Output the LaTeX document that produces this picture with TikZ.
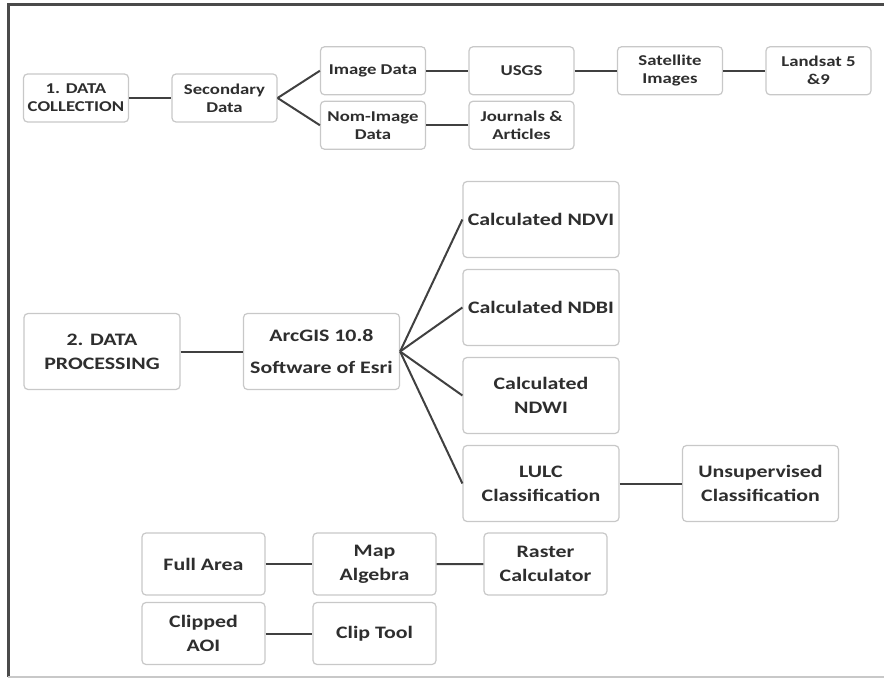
\documentclass[tikz,border=0pt]{standalone}
\usepackage{fontspec}
\setmainfont{Carlito}[FakeStretch=1.25]

\definecolor{boxline}{HTML}{C8C8C8}
\definecolor{linkline}{HTML}{404040}
\definecolor{frameline}{HTML}{4A4A4A}
\definecolor{textgray}{HTML}{2E2E2E}

\begin{document}
\begin{tikzpicture}[x=1pt,y=-1pt,grow'=right,
  parent anchor=east,child anchor=west,
  edge from parent/.style={draw,linkline,line width=2pt},
  box/.style={draw=boxline,line width=1.2pt,rounded corners=4pt,fill=white,
    text=textgray,align=center,inner sep=0pt},
  small/.style={box,minimum width=105pt,minimum height=48pt,
    font=\fontsize{15}{18}\selectfont\bfseries},
  big/.style={box,minimum width=156pt,minimum height=76pt,
    font=\fontsize{17.5}{24}\selectfont\bfseries},
  mid/.style={box,minimum width=123pt,minimum height=62pt,
    font=\fontsize{17.5}{24}\selectfont\bfseries}]
\useasboundingbox (0,0) rectangle (884,679);
\draw[frameline,line width=3pt] (8,677) -- (8,5) -- (884,5);
\draw[boxline,line width=2pt] (8,677) -- (884,677);

% 1. collection
\node (coll)[small] at (76,98) {1. DATA\\COLLECTION}
      [level distance=148.5pt,sibling distance=54.5pt]
      child {node [small] (second) {Secondary\\Data}
        child {node [small] (image) {Image Data}
          child {node [small] (usgs) {USGS}
            child {node [small] (sat) {Satellite\\Images}
              child {node [small] (landsat) {Landsat 5\\\&9}}}}}
        child {node [small] (nonimage) {Nom-Image\\Data}
          child {node [small] (journal) {Journals \&\\Articles}}}};

% 2. processing
\node (proc)[big] at (102,351.5) {2. DATA\\PROCESSING}
      [level distance=219.5pt,sibling distance=88pt]
      child {node [big] (arcgis) {ArcGIS 10.8\\[8pt]Software of Esri}
        child {node [big] (ndvi) {Calculated NDVI}}
        child {node [big] (ndbi) {Calculated NDBI}}
        child {node [big] (ndwi) {Calculated\\NDWI}}
        child {node [big] (lulc) {LULC\\Classification}
          child {node [big] (unsup) {Unsupervised\\Classification}}}};

% tools
\node (full)[mid] at (203.5,564) {Full Area}
      [level distance=171pt]
      child {node [mid] (mapalg) {Map\\Algebra}
        child {node [mid] (raster) {Raster\\Calculator}}};
\node (clipped)[mid] at (203.5,633.5) {Clipped\\AOI}
      [level distance=171pt]
      child {node [mid] (cliptool) {Clip Tool}};

   \end{tikzpicture}
\end{document}
